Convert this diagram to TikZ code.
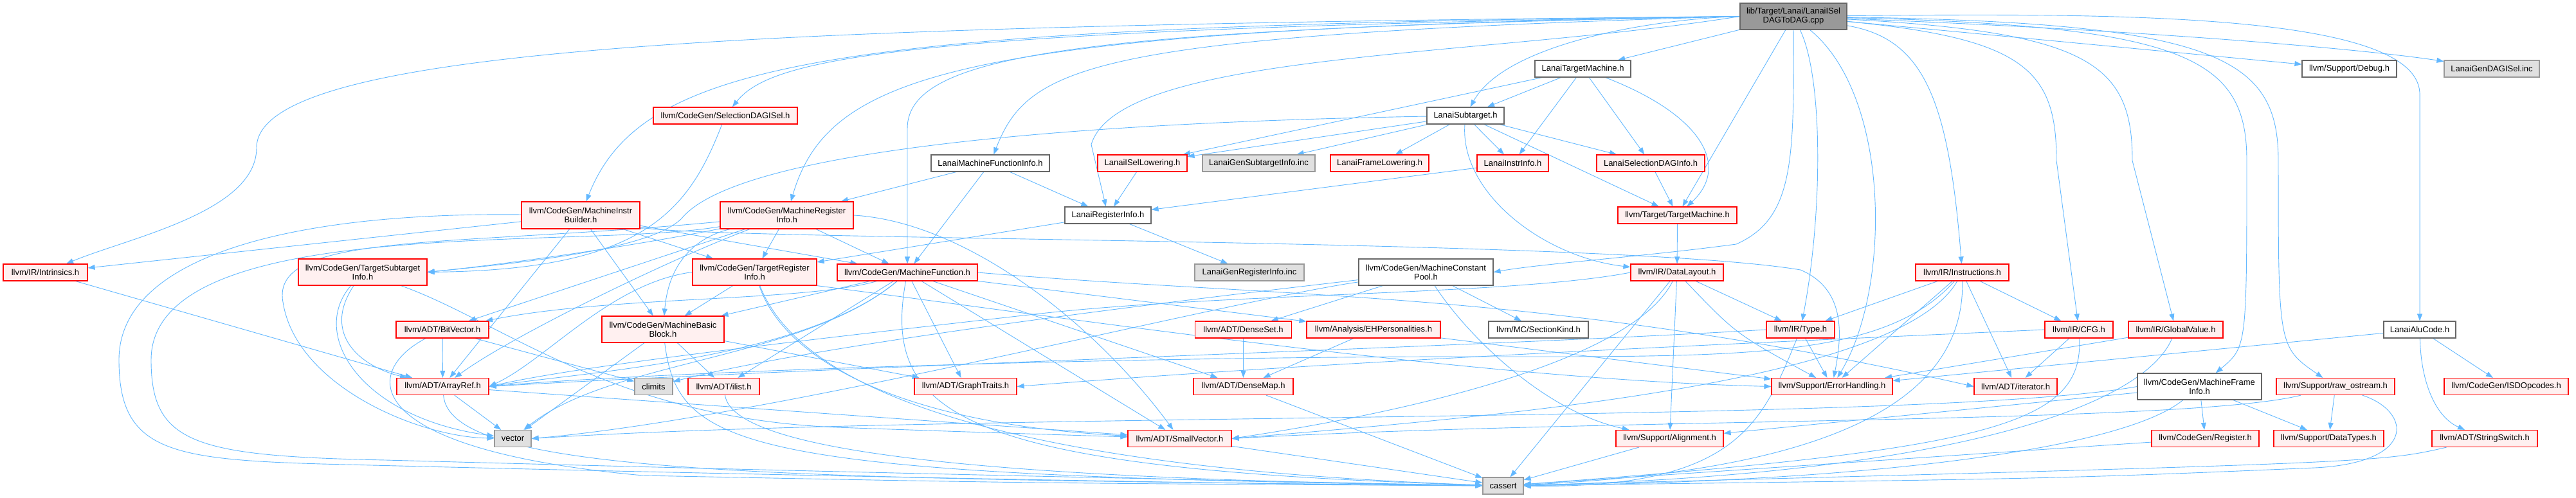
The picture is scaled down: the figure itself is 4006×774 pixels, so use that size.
\documentclass[tikz,border=0pt]{standalone}
\usepackage{fontspec}
\setmainfont{Liberation Sans}
\usetikzlibrary{arrows.meta,backgrounds}
\definecolor{depblue}{HTML}{63B8FF}
\definecolor{redfill}{HTML}{FFF0F0}
\definecolor{extfill}{HTML}{E0E0E0}
\definecolor{extline}{HTML}{999999}
\definecolor{docline}{HTML}{666666}

\begin{document}
\begin{tikzpicture}[x=1pt,y=-1pt,
    file/.style={draw, line width=1.2pt, inner sep=2pt, align=center, minimum height=26pt, font=\fontsize{13}{14}\selectfont},
    redfile/.style={file, draw=red, fill=redfill},
    docfile/.style={file, draw=docline, fill=white},
    extfile/.style={file, draw=extline, fill=extfill},
    rootfile/.style={file, draw=docline, fill=extline},
    dep/.style={draw=depblue, line width=0.9pt, -{Triangle[length=11pt,width=8pt]}}]
    \useasboundingbox (0,0) rectangle (4006,774);

    % top rows
    \node[rootfile, minimum width=166pt, minimum height=41pt] (root) at (2789,25.5) {lib/Target/Lanai/LanaiISel\\DAGToDAG.cpp};
    \node[docfile, minimum width=149pt] (ltm) at (2461.5,107) {LanaiTargetMachine.h};
    \node[docfile, minimum width=147pt] (debug) at (3653.5,107) {llvm/Support/Debug.h};
    \node[extfile, minimum width=148pt] (lgdag) at (3875,107) {LanaiGenDAGISel.inc};
    \node[docfile, minimum width=120pt] (lst) at (2279,180) {LanaiSubtarget.h};
    \node[redfile, minimum width=224pt] (sdisel) at (1128,180) {llvm/CodeGen/SelectionDAGISel.h};
    \node[docfile, minimum width=184pt] (lmfi) at (1540,254) {LanaiMachineFunctionInfo.h};
    \node[redfile, minimum width=139pt] (lisl) at (1776.5,254) {LanaiISelLowering.h};
    \node[extfile, minimum width=175pt] (lgsi) at (1957.5,254) {LanaiGenSubtargetInfo.inc};
    \node[redfile, minimum width=153pt] (lfl) at (2145.5,254) {LanaiFrameLowering.h};
    \node[redfile, minimum width=111pt] (lii) at (2352.5,254) {LanaiInstrInfo.h};
    \node[redfile, minimum width=168pt] (lsdi) at (2567,254) {LanaiSelectionDAGInfo.h};
    \node[redfile, minimum width=184pt, minimum height=42pt] (mib) at (903,335) {llvm/CodeGen/MachineInstr\\Builder.h};
    \node[redfile, minimum width=207pt, minimum height=42pt] (mri) at (1223.5,335) {llvm/CodeGen/MachineRegister\\Info.h};
    \node[docfile, minimum width=134pt] (lri) at (1723,335) {LanaiRegisterInfo.h};
    \node[redfile, minimum width=185pt] (tm) at (2608.5,335) {llvm/Target/TargetMachine.h};

    % middle rows
    \node[redfile, minimum width=131pt] (intr) at (70.5,424) {llvm/IR/Intrinsics.h};
    \node[redfile, minimum width=200pt, minimum height=41pt] (tsi) at (564,423.5) {llvm/CodeGen/TargetSubtarget\\Info.h};
    \node[redfile, minimum width=193pt, minimum height=41pt] (tri) at (1173.5,423.5) {llvm/CodeGen/TargetRegister\\Info.h};
    \node[redfile, minimum width=218pt] (mf) at (1411,424) {llvm/CodeGen/MachineFunction.h};
    \node[extfile, minimum width=170pt] (lgri) at (1943,424) {LanaiGenRegisterInfo.inc};
    \node[docfile, minimum width=209pt, minimum height=41pt] (mcp) at (2217.5,423.5) {llvm/CodeGen/MachineConstant\\Pool.h};
    \node[redfile, minimum width=144pt] (dl) at (2608,424) {llvm/IR/DataLayout.h};
    \node[redfile, minimum width=145pt] (instr) at (3051.5,424) {llvm/IR/Instructions.h};
    \node[redfile, minimum width=144pt] (bv) at (688,513) {llvm/ADT/BitVector.h};
    \node[redfile, minimum width=190pt, minimum height=41pt] (mbb) at (1031,512.5) {llvm/CodeGen/MachineBasic\\Block.h};
    \node[redfile, minimum width=150pt] (dset) at (1933.5,513) {llvm/ADT/DenseSet.h};
    \node[redfile, minimum width=208pt] (ehp) at (2136,513) {llvm/Analysis/EHPersonalities.h};
    \node[docfile, minimum width=155pt] (sk) at (2392.5,513) {llvm/MC/SectionKind.h};
    \node[redfile, minimum width=106pt] (type) at (2800,513) {llvm/IR/Type.h};
    \node[redfile, minimum width=106pt] (cfg) at (3233,513) {llvm/IR/CFG.h};
    \node[redfile, minimum width=147pt] (gv) at (3383.5,513) {llvm/IR/GlobalValue.h};
    \node[docfile, minimum width=112pt] (alu) at (3763,513) {LanaiAluCode.h};

    % bottom rows
    \node[redfile, minimum width=143pt] (aref) at (688.5,601.5) {llvm/ADT/ArrayRef.h};
    \node[extfile, minimum width=59pt] (climits) at (1016.5,601.5) {climits};
    \node[redfile, minimum width=111pt] (ilist) at (1125.5,601.5) {llvm/ADT/ilist.h};
    \node[redfile, minimum width=159pt] (gt) at (1501.5,601.5) {llvm/ADT/GraphTraits.h};
    \node[redfile, minimum width=155pt] (dmap) at (1933.5,601.5) {llvm/ADT/DenseMap.h};
    \node[redfile, minimum width=188pt] (eh) at (2849,601.5) {llvm/Support/ErrorHandling.h};
    \node[redfile, minimum width=129pt] (iter) at (3134.5,601.5) {llvm/ADT/iterator.h};
    \node[docfile, minimum width=193pt, minimum height=41pt] (mfi) at (3420.5,601.5) {llvm/CodeGen/MachineFrame\\Info.h};
    \node[redfile, minimum width=184pt] (raw) at (3632,601.5) {llvm/Support/raw\_ostream.h};
    \node[redfile, minimum width=193pt] (isd) at (3897.5,601.5) {llvm/CodeGen/ISDOpcodes.h};
    \node[extfile, minimum width=57pt] (vector) at (797.5,682.5) {vector};
    \node[redfile, minimum width=161pt] (svec) at (1834.5,682.5) {llvm/ADT/SmallVector.h};
    \node[redfile, minimum width=167pt] (align) at (2596.5,682.5) {llvm/Support/Alignment.h};
    \node[redfile, minimum width=167pt] (reg) at (3429.5,682.5) {llvm/CodeGen/Register.h};
    \node[redfile, minimum width=171pt] (dtypes) at (3621.5,682.5) {llvm/Support/DataTypes.h};
    \node[redfile, minimum width=164pt] (sswitch) at (3864,682.5) {llvm/ADT/StringSwitch.h};
    \node[extfile, minimum width=63pt] (cassert) at (2337.5,756) {cassert};

    \begin{pgfonlayer}{background}
    % the .cpp file
    \draw[dep] (root) -- (ltm);
    \draw[dep] (root.west) .. controls (2560,30) and (2340,70) .. (lst);
    \draw[dep] (root) -- (tm);
    \draw[dep] (root.south) .. controls (2790,250) and (2790,340) .. (2700,380) .. controls (2550,400) and (2400,410) .. (mcp.east);
    \draw[dep] (root) .. controls (2835,120) and (2835,330) .. (type);
    \draw[dep] (root) .. controls (2941,150) and (2941,450) .. (eh);
    \draw[dep] (root) .. controls (2990,60) and (3030,150) .. (instr);
    \draw[dep] (root) .. controls (3150,60) and (3198,110) .. (3198,250) -- (cfg);
    \draw[dep] (root) .. controls (3250,50) and (3316,100) .. (3316,250) -- (gv);
    \draw[dep] (root) .. controls (3400,40) and (3494,90) .. (3494,250) .. controls (3494,540) .. (mfi);
    \draw[dep] (root) .. controls (3450,35) and (3543,90) .. (3543,250) .. controls (3543,540) .. (raw);
    \draw[dep] (root) .. controls (3300,20) and (3770,20) .. (3763,150) -- (alu);
    \draw[dep] (root) -- (debug);
    \draw[dep] (root) .. controls (3400,50) and (3700,80) .. (lgdag);
    \draw[dep] (root.west) .. controls (2300,90) and (1740,80) .. (1697,225) -- (lri);
    \draw[dep] (root.west) .. controls (1700,55) and (1600,100) .. (lmfi);
    \draw[dep] (root.west) .. controls (1700,45) and (1411,80) .. (1411,200) -- (mf);
    \draw[dep] (root.west) .. controls (1500,45) and (1290,110) .. (mri);
    \draw[dep] (root.west) .. controls (1400,45) and (1200,90) .. (sdisel);
    \draw[dep] (root.west) .. controls (1300,40) and (1000,90) .. (mib);
    \draw[dep] (root.west) .. controls (1200,40) and (399,70) .. (399,230) .. controls (399,330) and (200,370) .. (intr);

    % Lanai headers
    \draw[dep] (ltm) -- (lisl);
    \draw[dep] (ltm) -- (lst);
    \draw[dep] (ltm) -- (lii);
    \draw[dep] (ltm) -- (lsdi);
    \draw[dep] (ltm) .. controls (2650,180) and (2690,260) .. (tm);
    \draw[dep] (lst) .. controls (1700,190) and (1150,230) .. (1060,340) .. controls (1010,390) and (800,410) .. (tsi.east);
    \draw[dep] (lst) -- (lisl);
    \draw[dep] (lst) -- (lgsi);
    \draw[dep] (lst) -- (lfl);
    \draw[dep] (lst) -- (lii);
    \draw[dep] (lst) -- (lsdi);
    \draw[dep] (lst) -- (tm);
    \draw[dep] (lst) .. controls (2270,300) and (2400,400) .. (dl);
    \draw[dep] (lisl) -- (lri);
    \draw[dep] (lii) -- (lri);
    \draw[dep] (lsdi) -- (tm);
    \draw[dep] (lmfi) -- (lri);
    \draw[dep] (lmfi) -- (mf);
    \draw[dep] (lmfi) -- (mri);
    \draw[dep] (lri) -- (tri);
    \draw[dep] (lri) -- (lgri);
    \draw[dep] (sdisel) .. controls (1070,330) and (1000,420) .. (tsi.east);

    % CodeGen
    \draw[dep] (mib) -- (intr);
    \draw[dep] (mib) -- (aref);
    \draw[dep] (mib) -- (mbb);
    \draw[dep] (mib) -- (mf);
    \draw[dep] (mib) -- (tri);
    \draw[dep] (mib) .. controls (1100,375) and (2500,370) .. (2800,420) .. controls (2870,450) and (2865,520) .. (eh);
    \draw[dep] (mib) .. controls (450,330) and (185,400) .. (185,560) .. controls (185,700) and (260,715) .. (500,722) .. controls (1200,740) and (2000,755) .. (cassert);
    \draw[dep] (mri) .. controls (1050,400) and (800,520) .. (aref);
    \draw[dep] (mri) -- (bv);
    \draw[dep] (mri.east) .. controls (1500,345) and (1700,500) .. (svec);
    \draw[dep] (mri) .. controls (1080,370) and (1040,410) .. (mbb);
    \draw[dep] (mri) -- (mf);
    \draw[dep] (mri) -- (tri);
    \draw[dep] (mri) .. controls (1000,380) and (800,410) .. (tsi.east);
    \draw[dep] (mri) .. controls (900,390) and (235,330) .. (235,560) .. controls (235,690) and (300,710) .. (600,716) .. controls (1300,735) and (2000,750) .. (cassert);
    \draw[dep] (mri) .. controls (700,385) and (420,360) .. (440,470) .. controls (460,600) and (650,680) .. (vector);
    \draw[dep] (tsi) .. controls (500,520) and (560,570) .. (aref);
    \draw[dep] (tsi) .. controls (480,520) and (560,650) .. (vector);
    \draw[dep] (tsi) .. controls (780,500) and (950,650) .. (1300,665) .. controls (1500,672) .. (svec);
    \draw[dep] (tri.west) .. controls (950,440) and (850,560) .. (aref.east);
    \draw[dep] (tri) .. controls (1220,560) and (1400,660) .. (svec);
    \draw[dep] (tri) -- (mbb);
    \draw[dep] (tri.south east) .. controls (1700,500) and (2300,590) .. (eh.west);
    \draw[dep] (tri) .. controls (1250,620) and (1600,730) .. (cassert);
    \draw[dep] (mf) .. controls (1250,560) and (900,580) .. (aref.east);
    \draw[dep] (mf) .. controls (1250,470) and (950,460) .. (bv);
    \draw[dep] (mf) -- (dmap);
    \draw[dep] (mf) -- (gt);
    \draw[dep] (mf) -- (svec);
    \draw[dep] (mf) -- (ilist);
    \draw[dep] (mf.east) .. controls (2000,465) and (2400,450) .. (iter.west);
    \draw[dep] (mf) -- (mbb);
    \draw[dep] (mf) -- (ehp);
    \draw[dep] (mf) .. controls (1370,650) and (1500,730) .. (cassert);
    \draw[dep] (mf) .. controls (1250,560) and (950,560) .. (vector);
    \draw[dep] (mbb) -- (gt);
    \draw[dep] (mbb) -- (ilist);
    \draw[dep] (mbb) .. controls (1055,700) and (1150,740) .. (cassert);
    \draw[dep] (mbb) -- (vector);
    \draw[dep] (mcp) -- (dset);
    \draw[dep] (mcp) -- (sk);
    \draw[dep] (mcp) .. controls (2280,520) and (2400,640) .. (align);
    \draw[dep] (mcp) .. controls (1900,460) and (1300,530) .. (climits);
    \draw[dep] (mcp) .. controls (1900,470) and (1200,650) .. (vector.east);

    % IR
    \draw[dep] (tm) -- (dl);
    \draw[dep] (dl) -- (type);
    \draw[dep] (dl) .. controls (2700,520) .. (eh);
    \draw[dep] (dl) -- (align);
    \draw[dep] (dl) -- (cassert);
    \draw[dep] (dl.west) .. controls (2350,460) and (1900,455) .. (1600,490) .. controls (1200,535) and (900,570) .. (aref.east);
    \draw[dep] (dl) .. controls (2540,560) and (2200,640) .. (svec.east);
    \draw[dep] (instr) -- (iter);
    \draw[dep] (instr) -- (cfg);
    \draw[dep] (instr) -- (type);
    \draw[dep] (instr) -- (eh);
    \draw[dep] (instr) .. controls (2930,560) and (2700,555) .. (2300,555) .. controls (1700,555) and (1000,580) .. (aref.east);
    \draw[dep] (instr) .. controls (2950,600) and (2300,650) .. (svec.east);
    \draw[dep] (instr) .. controls (3055,600) and (2900,730) .. (cassert);
    \draw[dep] (type.west) .. controls (2300,540) and (1300,570) .. (aref.east);
    \draw[dep] (type) -- (eh);
    \draw[dep] (type) .. controls (2740,660) and (2700,760) .. (cassert);
    \draw[dep] (cfg.west) .. controls (2700,535) and (2100,560) .. (gt.east);
    \draw[dep] (cfg) -- (iter);
    \draw[dep] (cfg) .. controls (3240,660) and (3100,700) .. (cassert);
    \draw[dep] (gv) -- (eh);
    \draw[dep] (gv) .. controls (3330,640) and (3000,740) .. (cassert);
    \draw[dep] (intr) -- (aref);

    % ADT and Support
    \draw[dep] (bv) -- (aref);
    \draw[dep] (bv) -- (climits);
    \draw[dep] (bv) .. controls (560,580) and (560,700) .. (1000,740) .. controls (1600,752) .. (cassert);
    \draw[dep] (aref) -- (vector);
    \draw[dep] (aref) -- (svec);
    \draw[dep] (aref) .. controls (700,740) and (1200,745) .. (cassert);
    \draw[dep] (ilist) .. controls (1140,700) and (1500,745) .. (cassert);
    \draw[dep] (dset) -- (dmap);
    \draw[dep] (dmap) -- (cassert);
    \draw[dep] (ehp) -- (dmap);
    \draw[dep] (ehp) -- (eh);
    \draw[dep] (alu) .. controls (3765,600) and (3790,650) .. (sswitch);
    \draw[dep] (alu) -- (isd);
    \draw[dep] (alu) -- (eh);
    \draw[dep] (mfi) -- (reg);
    \draw[dep] (mfi) -- (dtypes);
    \draw[dep] (mfi) -- (align);
    \draw[dep] (mfi.west) .. controls (3000,660) and (1500,640) .. (vector.east);
    \draw[dep] (mfi) .. controls (3300,700) and (2900,750) .. (cassert);
    \draw[dep] (raw) -- (dtypes);
    \draw[dep] (raw) .. controls (3400,660) and (2500,650) .. (svec.east);
    \draw[dep] (raw) .. controls (3750,640) and (3760,720) .. (3600,728) .. controls (3200,745) .. (cassert);
    \draw[dep] (svec) -- (cassert);
    \draw[dep] (align) -- (cassert);
    \draw[dep] (reg) -- (cassert);
    \draw[dep] (sswitch) .. controls (3700,720) .. (cassert);
    \end{pgfonlayer}
\end{tikzpicture}
\end{document}
